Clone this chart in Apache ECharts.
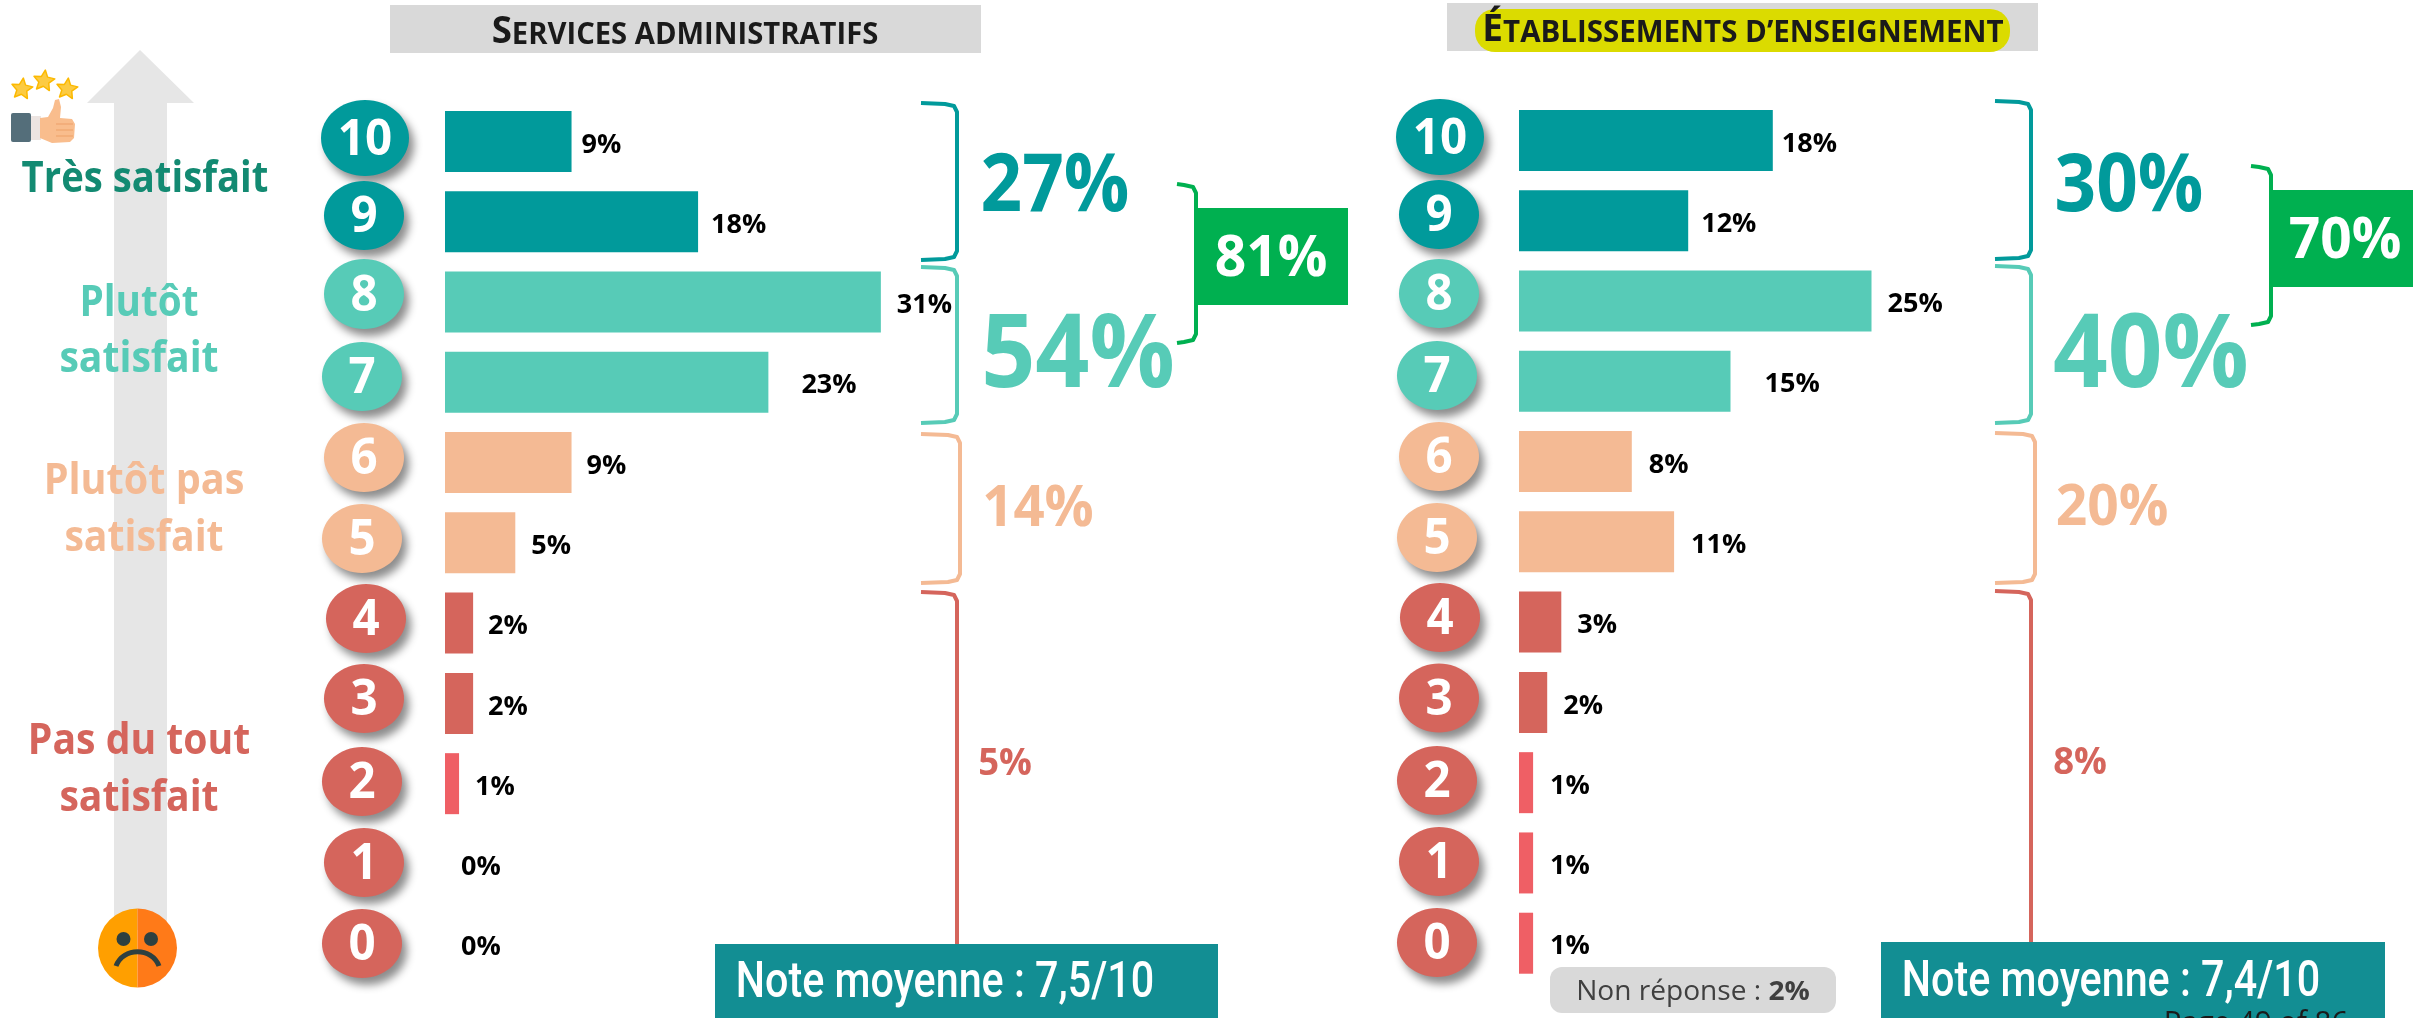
<!DOCTYPE html>
<html><head><meta charset="utf-8">
<script src="https://cdn.jsdelivr.net/npm/echarts@6/dist/echarts.min.js"></script>
<style>html,body{margin:0;padding:0;background:#fff;overflow:hidden}#c{width:2413px;height:1018px}</style>
</head><body><div id="c"></div>
<script>
// ---- data ----
const categories = ['10','9','8','7','6','5','4','3','2','1','0'];
const servicesValues = [9,18,31,23,9,5,2,2,1,0,0];
const etablissementsValues = [18,12,25,15,8,11,3,2,1,1,1];
const servicesGroups = ['27%','54%','14%','5%'];
const etablissementsGroups = ['30%','40%','20%','8%'];
const servicesTotal = '81%';
const etablissementsTotal = '70%';
const servicesTitle = ['S','ERVICES ADMINISTRATIFS'];
const etablissementsTitle = ['É','TABLISSEMENTS D’ENSEIGNEMENT'];
const servicesMean = 'Note moyenne : 7,5/10';
const etablissementsMean = 'Note moyenne : 7,4/10';

// ---- style ----
const TEAL='#019a9b', MINT='#57cbb7', PEACH='#f4ba94', RED='#d5655c', BRIGHT='#ef5f65', GREEN='#00b050', BANNER='#128e93';
const rowBar=[TEAL,TEAL,MINT,MINT,PEACH,PEACH,RED,RED,BRIGHT,BRIGHT,BRIGHT];
const rowCircle=[TEAL,TEAL,MINT,MINT,PEACH,PEACH,RED,RED,RED,RED,RED];
const FONT='"Open Sans"';
const leftGaps=[10,13,16,33,15,16,15,15,16,16,16];
const rightGaps=[9,13,16,34,17,17,16,16,17,17,17];
// circle centres / radii: number badges on the category rows
const leftBadges=[[365,138,44,38],[364,215.5,40,34.5],[364,294,40,35],[362,376.5,40,34.5],[364,457.5,40,34.5],[362,538.5,40,34.5],[366,618.5,40,34.5],[364,698.5,40,34.5],[362,781.5,40,34.5],[364,862.5,40,34.5],[362,943.5,40,34.5]];
const rightBadges=[[1440,137,44,38],[1439,214.5,40,34.5],[1439,293.5,40,34.5],[1437,375.5,40,34.5],[1439,456.5,40,34.5],[1437,537.5,40,34.5],[1440,617.5,40,34.5],[1439,698,40,34.5],[1437,780.5,40,34.5],[1439,861.5,40,34.5],[1437,942.5,40,34.5]];

function T(text,x,y,size,fill,o){o=o||{};return {type:'text',x:x,y:y+(o.rich?0:size*0.07),scaleX:o.sx||1,z:o.z||20,silent:true,
  style:{text:text,fontFamily:o.font||FONT,fontSize:size,fontWeight:o.w||700,fill:fill,align:o.align||'center',verticalAlign:'middle',rich:o.rich}};}
function R(x0,y0,x1,y1,fill,r,z){return {type:'rect',z:z||10,silent:true,shape:{x:x0,y:y0,width:x1-x0,height:y1-y0,r:r||0},style:{fill:fill}};}
function bracket(x0,x1,y0,y1,color,w,open){
  const pts=[[x0,y0],[x1-12,y0+1],[x1-3,y0+3],[x1,y0+9],[x1,y1-9],[x1-3,y1-3],[x1-12,y1-1],[x0,y1]];
  if(open){pts.length=4;pts.push([x1,y1]);}
  return {type:'polyline',z:12,silent:true,shape:{points:pts},style:{stroke:color,lineWidth:w||4,fill:null,lineJoin:'round'}};
}
function star(cx,cy,r){const p=[];for(let i=0;i<10;i++){const a=-Math.PI/2+i*Math.PI/5+0.12,q=i%2?r*0.48:r;p.push([cx+q*Math.cos(a),cy+q*Math.sin(a)]);}
  return {type:'polygon',z:14,silent:true,shape:{points:p},style:{fill:'#fccb43',stroke:'#fcb900',lineWidth:1.5,lineJoin:'round'}};}

const g=[];
// scale arrow
g.push({type:'polygon',z:5,silent:true,shape:{points:[[140,50],[194,103],[167,103],[167,930],[114,930],[114,103],[87,103]]},style:{fill:'#e6e6e6'}});
// icon: thumb + stars
g.push(star(22,89,11),star(44,81,11),star(67,89,11));
g.push(R(11,113,31,142,'#546e7a',2,14),R(31,116,41,140,'#ece4e1',0,14));
g.push({type:'polygon',z:14,silent:true,shape:{points:[[40,118],[48,117],[53,108],[55,100],[59,99],[61,107],[60,118],[72,119],[75,124],[74,138],[70,142],[52,143],[40,138]]},style:{fill:'#f9bd8d',lineJoin:'round'}});
[124,130,136].forEach(y=>g.push({type:'line',z:15,silent:true,shape:{x1:56,y1:y,x2:73,y2:y},style:{stroke:'#eea56f',lineWidth:1.2}}));
// icon: sad face
g.push({type:'sector',z:14,silent:true,shape:{cx:137.5,cy:948,r:39.5,startAngle:Math.PI/2,endAngle:Math.PI*1.5},style:{fill:'#ff9f00'}});
g.push({type:'sector',z:14,silent:true,shape:{cx:137.5,cy:948,r:39.5,startAngle:-Math.PI/2,endAngle:Math.PI/2},style:{fill:'#ff7a18'}});
g.push({type:'circle',z:15,silent:true,shape:{cx:123.5,cy:939,r:7},style:{fill:'#2e4040'}},{type:'circle',z:15,silent:true,shape:{cx:151,cy:939,r:7},style:{fill:'#2e4040'}});
g.push({type:'bezierCurve',z:15,silent:true,shape:{x1:116,y1:966,x2:159,y2:966,cpx1:123,cpy1:947,cpx2:152,cpy2:947},style:{stroke:'#2e4040',lineWidth:5,fill:null}});
// scale labels
g.push(T('Très satisfait',145,177,43,'#138a72',{sx:.89}));
g.push(T('Plutôt',139,301,43,MINT,{sx:.9}),T('satisfait',139,357,43,MINT,{sx:.91}));
g.push(T('Plutôt pas',144,479,43,PEACH,{sx:.92}),T('satisfait',144,536,43,PEACH,{sx:.91}));
g.push(T('Pas du tout',139,739,43,RED,{sx:.91}),T('satisfait',139,796,43,RED,{sx:.91}));
// titles
g.push(R(390,5,981,53,'#d9d9d9'));
g.push(R(1447,3,2038,51,'#d9d9d9'));
g.push(R(1475,9,2010,52,'#dbdb00',20,11));
function title(parts,x,y,sx){return T('{a|'+parts[0]+'}{b|'+parts[1]+'}',x,y,30,'#1a1a1a',{sx:sx,rich:{a:{fontSize:37,fontWeight:700,fontFamily:FONT,fill:'#1a1a1a',verticalAlign:'bottom',lineHeight:44},b:{fontSize:29.5,fontWeight:700,fontFamily:FONT,fill:'#1a1a1a',verticalAlign:'bottom',lineHeight:40}}});}
g.push(title(servicesTitle,685,29,.99),title(etablissementsTitle,1743,27,1.0));
// badges
function badges(list){list.forEach((b,i)=>{
  g.push({type:'ellipse',z:12,silent:true,shape:{cx:b[0],cy:b[1],rx:b[2],ry:b[3]},style:{fill:rowCircle[i],shadowBlur:9,shadowOffsetX:5,shadowOffsetY:7,shadowColor:'rgba(0,0,0,.45)'}});
  g.push(T(categories[i],b[0],b[1]-1,50,'#fff',{sx:.95}));
});}
badges(leftBadges);badges(rightBadges);
// brackets + group totals, left
g.push(bracket(921,957,103,260,TEAL),bracket(921,957,267,423,MINT),bracket(921,960,434,583,PEACH),bracket(921,957,592,944,RED,4,true));
g.push(T(servicesGroups[0],1055,183,80,TEAL,{sx:.91}),T(servicesGroups[1],1078,350,103,MINT,{sx:.92}));
g.push(T(servicesGroups[2],1038,505,58,PEACH,{sx:.94}),T(servicesGroups[3],1005,762,38,RED,{sx:.96}));
g.push(bracket(1177,1196,184,343,GREEN,4),R(1194,208,1348,305,GREEN,0,13),T(servicesTotal,1271,255,58,'#fff',{sx:.95}));
g.push(R(715,944,1218,1018,BANNER,0,13),T(servicesMean,945,981,50,'#fff',{font:'Roboto',w:500,sx:.825}));
// brackets + group totals, right
g.push(bracket(1995,2031,101,259,TEAL),bracket(1995,2031,266,423,MINT),bracket(1995,2035,433,583,PEACH),bracket(1995,2031,591,942,RED,4,true));
g.push(T(etablissementsGroups[0],2129,183,80,TEAL,{sx:.91}),T(etablissementsGroups[1],2151,350,103,MINT,{sx:.93}));
g.push(T(etablissementsGroups[2],2112,504,58,PEACH,{sx:.95}),T(etablissementsGroups[3],2080,761,38,RED,{sx:.96}));
g.push(bracket(2251,2271,166,325,GREEN,4),R(2269,190,2413,287,GREEN,0,13),T(etablissementsTotal,2345,237,58,'#fff',{sx:.95}));
g.push(R(1881,942,2385,1018,BANNER,0,13),T(etablissementsMean,2111,980,50,'#fff',{font:'Roboto',w:500,sx:.825}));
g.push(T('Page 49 of 86',2256,1022,31,'#1a1a1a',{w:400,z:25,font:'"Open Sans"',sx:.95}));
// non reponse
g.push(R(1550,967,1836,1013,'#d9d9d9',12,12));
g.push(T('{a|Non réponse : }{b|2%}',1693,992,27,'#404040',{sx:1.04,rich:{a:{fontSize:27,fontWeight:400,fontFamily:FONT,fill:'#404040'},b:{fontSize:27,fontWeight:700,fontFamily:FONT,fill:'#404040'}}}));

function barSeries(values,gaps,idx){return {type:'bar',xAxisIndex:idx,yAxisIndex:idx,barWidth:61,animation:false,silent:true,z:3,
  data:values.map((v,i)=>({value:v,itemStyle:{color:rowBar[i]},
    label:{show:true,position:'right',distance:gaps[i],offset:[0,3.5],formatter:'{c}%',color:'#000',fontFamily:FONT,fontWeight:700,fontSize:27}}))};}
const axisY=i=>({type:'category',gridIndex:i,inverse:true,data:categories,show:false});
const axisX=i=>({type:'value',gridIndex:i,min:0,max:40,show:false});
const chart=echarts.init(document.getElementById('c'),null,{renderer:'canvas'});
chart.setOption({animation:false,backgroundColor:'#fff',
  grid:[{left:445,top:101.35,width:562.4,height:883,containLabel:false},{left:1519,top:100.35,width:564,height:883}],
  xAxis:[axisX(0),axisX(1)],yAxis:[axisY(0),axisY(1)],
  series:[barSeries(servicesValues,leftGaps,0),barSeries(etablissementsValues,rightGaps,1)],
  graphic:{elements:g}});
</script></body></html>
